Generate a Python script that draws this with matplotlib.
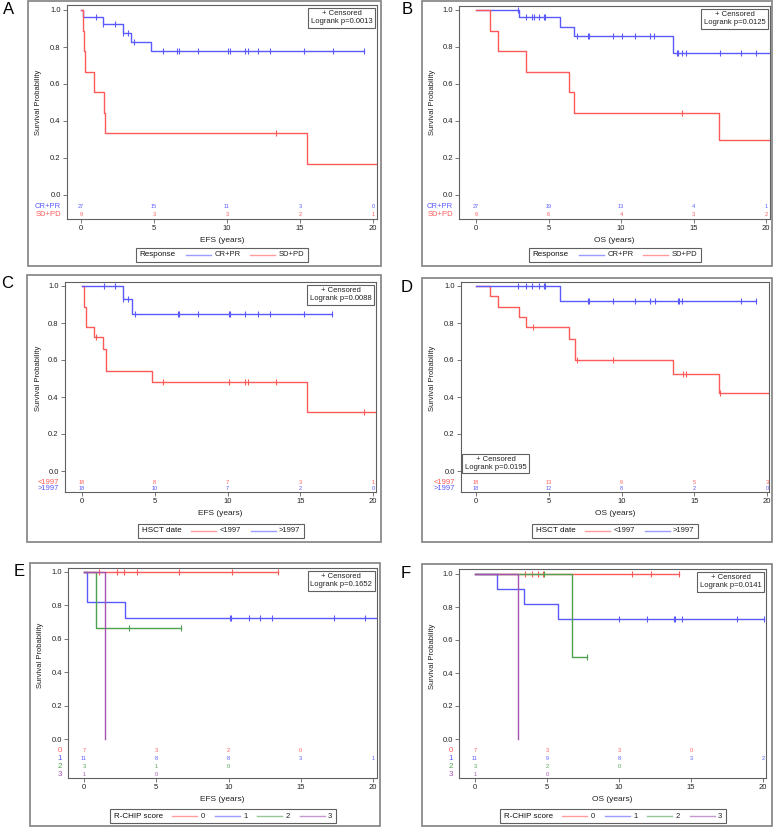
import matplotlib
matplotlib.use('Agg')
import matplotlib.pyplot as plt
import numpy as np
from matplotlib.lines import Line2D
from matplotlib.patches import Rectangle
from matplotlib.offsetbox import AnchoredOffsetbox, HPacker, TextArea, DrawingArea

plt.rcParams['font.family'] = ['Liberation Sans', 'DejaVu Sans']

W, H = 777, 827
BLUE = '#5a5aff'
RED = '#ff5a5a'
GREEN = '#4fa04f'
PURPLE = '#a352b0'
GREY = '#606060'

x_ticks = [0, 5, 10, 15, 20]
y_ticks = [0.0, 0.2, 0.4, 0.6, 0.8, 1.0]

# ---- A: EFS by response ----
a_cr_t = [0, 0.14, 1.5, 2.9, 3.45, 4.8]
a_cr_s = [1.0, 0.963, 0.926, 0.877, 0.829, 0.778]
a_cr_end = 19.4
a_cr_cens = [1.05, 1.5, 2.3, 2.9, 3.2, 3.65, 5.6, 6.6, 6.7, 8.0, 10.1, 10.2,
             11.2, 11.45, 12.15, 12.95, 15.3, 17.25, 19.4]
a_sd_t = [0, 0.15, 0.2, 0.25, 0.87, 1.6, 1.65, 15.45]
a_sd_s = [1.0, 0.889, 0.778, 0.667, 0.556, 0.444, 0.333, 0.167]
a_sd_end = 20.4
a_sd_cens = [13.35]
a_risk_cr = [27, 15, 11, 3, 0]
a_risk_sd = [9, 3, 3, 2, 1]

# ---- B: OS by response ----
b_cr_t = [0, 2.97, 5.79, 6.78, 13.56]
b_cr_s = [1.0, 0.963, 0.91, 0.859, 0.765]
b_cr_end = 20.4
b_cr_cens = [2.87, 3.45, 3.84, 4.0, 4.37, 4.69, 4.78, 6.94, 7.7, 7.8, 9.47, 10.09,
             10.97, 12.0, 12.3, 13.85, 13.95, 14.18, 14.46, 16.83, 18.28, 19.29]
b_sd_t = [0, 0.97, 1.49, 3.43, 6.41, 6.78, 16.76]
b_sd_s = [1.0, 0.889, 0.778, 0.667, 0.556, 0.444, 0.296]
b_sd_end = 20.4
b_sd_cens = [14.23]
b_risk_cr = [27, 19, 13, 4, 1]
b_risk_sd = [9, 6, 4, 3, 2]

# ---- C: EFS by HSCT date ----
c_old_t = [0, 0.15, 0.25, 0.82, 1.44, 1.62, 4.8, 15.43]
c_old_s = [1.0, 0.889, 0.778, 0.722, 0.66, 0.54, 0.48, 0.32]
c_old_end = 20.4
c_old_cens = [0.98, 5.6, 10.13, 11.2, 11.43, 13.33, 19.36]
c_new_t = [0, 2.81, 3.43]
c_new_s = [1.0, 0.929, 0.85]
c_new_end = 17.2
c_new_cens = [1.49, 2.29, 2.81, 3.15, 3.61, 6.6, 6.7, 8.0, 10.1, 10.2, 11.2,
              12.1, 12.9, 15.27, 17.2]
c_risk_old = [18, 8, 7, 3, 1]
c_risk_new = [18, 10, 7, 2, 0]

# ---- D: OS by HSCT date ----
d_old_t = [0, 0.96, 1.49, 2.98, 3.44, 6.4, 6.77, 13.53, 16.72]
d_old_s = [1.0, 0.944, 0.889, 0.833, 0.778, 0.716, 0.6, 0.523, 0.42]
d_old_end = 20.4
d_old_cens = [3.94, 6.93, 9.45, 14.2, 14.43, 16.79, 20.2]
d_new_t = [0, 5.78]
d_new_s = [1.0, 0.917]
d_new_end = 19.24
d_new_cens = [2.87, 3.44, 3.83, 4.36, 4.65, 4.77, 7.7, 7.78, 9.45, 10.94, 11.97,
              12.27, 13.85, 13.92, 14.15, 18.23, 19.24]
d_risk_old = [18, 13, 9, 5, 3]
d_risk_new = [18, 12, 8, 2, 0]

# ---- E: EFS by R-CHIP score ----
e0_t, e0_s, e0_end = [0], [1.0], 13.46
e0_cens = [1.04, 2.31, 2.79, 3.7, 6.6, 10.23, 13.46]
e1_t, e1_s, e1_end = [0, 0.23, 2.84], [1.0, 0.818, 0.727], 20.4
e1_cens = [10.12, 10.2, 11.45, 12.2, 13.0, 17.27, 19.47]
e2_t, e2_s, e2_end = [0, 0.85], [1.0, 0.667], 6.72
e2_cens = [3.14, 6.72]
e3_t, e3_s, e3_end = [0, 1.48], [1.0, 0.0], 1.48
e3_cens = []
e_risk = [[7, 3, 2, 0], [11, 8, 8, 3, 1], [3, 1, 0], [1, 0]]

# ---- F: OS by R-CHIP score ----
f0_t, f0_s, f0_end = [0], [1.0], 14.18
f0_cens = [3.48, 3.99, 4.4, 4.75, 10.89, 12.24, 14.18]
f1_t, f1_s, f1_end = [0, 1.51, 3.43, 5.75], [1.0, 0.909, 0.818, 0.727], 20.1
f1_cens = [10.03, 11.94, 13.83, 13.9, 14.37, 18.19, 20.1]
f2_t, f2_s, f2_end = [0, 6.77], [1.0, 0.5], 7.76
f2_cens = [4.82, 7.76]
f3_t, f3_s, f3_end = [0, 3.01], [1.0, 0.0], 3.01
f3_cens = []
f_risk = [[7, 3, 3, 0], [11, 9, 8, 3, 2], [3, 2, 0], [1, 0]]

resp_labels = ['CR+PR', 'SD+PD']
date_labels = ['<1997', '>1997']
score_labels = ['0', '1', '2', '3']
score_colors = [RED, BLUE, GREEN, PURPLE]

fig = plt.figure(figsize=(W / 100, H / 100), dpi=100)


def px_rect(x0, y0, x1, y1):
    return [x0 / W, 1 - y1 / H, (x1 - x0) / W, (y1 - y0) / H]


def frame(x0, y0, x1, y1):
    fig.add_artist(Rectangle((x0 / W, 1 - y1 / H), (x1 - x0) / W, (y1 - y0) / H,
                             transform=fig.transFigure, fill=False, ec='#8a8a8a', lw=1.3))


def km_axes(box, x0, x20, y1, y0, xlabel, ylab_x):
    L, T, R, B = box
    ax = fig.add_axes(px_rect(L, T, R, B))
    kx = (x20 - x0) / 20.0
    ky = float(y0 - y1)
    ax.set_xlim((L - x0) / kx, (R - x0) / kx)
    ax.set_ylim((y0 - B) / ky, (y0 - T) / ky)
    ax.set_xticks(x_ticks)
    ax.set_yticks(y_ticks)
    ax.set_yticklabels(['%.1f' % v for v in y_ticks])
    ax.tick_params(length=3, width=0.6, color=GREY, labelsize=5.5, pad=1.5, labelcolor='#222222')
    for sp in ax.spines.values():
        sp.set_color(GREY)
        sp.set_linewidth(0.8)
    ax.set_xlabel(xlabel, fontsize=6, labelpad=3.5, color='#222222')
    ax.text((ylab_x - L) / (R - L), 0.5, 'Survival Probability', transform=ax.get_yaxis_transform(),
            rotation=90, ha='center', va='center', fontsize=5.5, color='#222222')
    ax.px = (L, R, y0, ky)
    return ax


def km_line(ax, t, s, end, cens, color):
    x = list(t) + [end]
    y = list(s) + [s[-1]]
    ax.plot(x, y, drawstyle='steps-post', color=color, lw=1)
    if len(cens):
        idx = np.searchsorted(t, cens, side='right') - 1
        ax.plot(cens, np.array(s)[idx], ls='none', marker='|', ms=4, mew=0.8, color=color)


def risk_table(ax, rows_px, labels, colors, counts, lab_size=5.5):
    L, R, y0, ky = ax.px
    for py, lab, col, cnt in zip(rows_px, labels, colors, counts):
        yv = (y0 - py) / ky
        ax.text(-6.0 / (R - L), yv, lab, transform=ax.get_yaxis_transform(), ha='right',
                va='center', fontsize=lab_size, color=col)
        for xv, n in zip(x_ticks, cnt):
            ax.text(xv, yv, str(n), ha='center', va='center', fontsize=4, color=col)


def censor_box(ax, pval, x, y, ha, va):
    ax.text(x, y, '+ Censored\nLogrank p=' + pval, transform=ax.transAxes, ha=ha, va=va,
            multialignment='center', fontsize=5.5, color='#222222',
            bbox=dict(boxstyle='square,pad=0.3', fc='white', ec=GREY, lw=0.8))


def key(title, labels, colors, cx, cy):
    parts = []
    for lab, col in zip(labels, colors):
        da = DrawingArea(18, 5, 0, 0)
        da.add_artist(Line2D([0, 18], [2.5, 2.5], color=col, lw=1, alpha=0.6))
        parts.append(HPacker(children=[da, TextArea(lab, textprops=dict(size=5.5, color='#222222'))],
                             align='center', pad=0, sep=2.5))
    items = HPacker(children=parts, align='center', pad=0, sep=7)
    box = HPacker(children=[TextArea(title, textprops=dict(size=5.8, color='#111111')), items],
                  align='center', pad=0, sep=7)
    anch = AnchoredOffsetbox(loc='center', child=box, pad=0.25, borderpad=0, frameon=True,
                             bbox_to_anchor=(cx / W, 1 - cy / H), bbox_transform=fig.transFigure)
    anch.patch.set_edgecolor(GREY)
    anch.patch.set_linewidth(0.8)
    fig.add_artist(anch)


def letter(ch, x, y):
    fig.text(x / W, 1 - y / H, ch, ha='center', va='center', fontsize=12)


# Panel A
frame(28, 1, 381, 266)
ax = km_axes((67, 5, 377, 219), 81, 373, 10, 195, 'EFS (years)', 39)
km_line(ax, a_cr_t, a_cr_s, a_cr_end, a_cr_cens, BLUE)
km_line(ax, a_sd_t, a_sd_s, a_sd_end, a_sd_cens, RED)
risk_table(ax, [207, 215], resp_labels, [BLUE, RED], [a_risk_cr, a_risk_sd])
censor_box(ax, '0.0013', 0.985, 0.975, 'right', 'top')
key('Response', resp_labels, [BLUE, RED], 222, 255)
letter('A', 9, 10)

# Panel B
frame(422, 1, 772, 266)
ax = km_axes((459, 6, 770, 219), 476, 766, 10, 195, 'OS (years)', 432)
km_line(ax, b_cr_t, b_cr_s, b_cr_end, b_cr_cens, BLUE)
km_line(ax, b_sd_t, b_sd_s, b_sd_end, b_sd_cens, RED)
risk_table(ax, [207, 215], resp_labels, [BLUE, RED], [b_risk_cr, b_risk_sd])
censor_box(ax, '0.0125', 0.985, 0.975, 'right', 'top')
key('Response', resp_labels, [BLUE, RED], 615, 255)
letter('B', 407, 10)

# Panel C
frame(27, 275, 381, 542)
ax = km_axes((65, 282, 376, 492), 82, 373, 286, 471, 'EFS (years)', 39)
km_line(ax, c_old_t, c_old_s, c_old_end, c_old_cens, RED)
km_line(ax, c_new_t, c_new_s, c_new_end, c_new_cens, BLUE)
risk_table(ax, [482, 489], date_labels, [RED, BLUE], [c_risk_old, c_risk_new])
censor_box(ax, '0.0088', 0.985, 0.975, 'right', 'top')
key('HSCT date', date_labels, [RED, BLUE], 221, 531)
letter('C', 7, 283)

# Panel D
frame(422, 278, 772, 542)
ax = km_axes((461, 282, 769, 492), 476, 767, 286, 471, 'OS (years)', 433)
km_line(ax, d_old_t, d_old_s, d_old_end, d_old_cens, RED)
km_line(ax, d_new_t, d_new_s, d_new_end, d_new_cens, BLUE)
risk_table(ax, [482, 489], date_labels, [RED, BLUE], [d_risk_old, d_risk_new])
censor_box(ax, '0.0195', 0.012, 0.1, 'left', 'bottom')
key('HSCT date', date_labels, [RED, BLUE], 615, 531)
letter('D', 407, 288)

# Panel E
frame(30, 563, 380, 826)
ax = km_axes((68, 568, 377, 778), 84, 373, 572, 739, 'EFS (years)', 40)
km_line(ax, e0_t, e0_s, e0_end, e0_cens, RED)
km_line(ax, e1_t, e1_s, e1_end, e1_cens, BLUE)
km_line(ax, e2_t, e2_s, e2_end, e2_cens, GREEN)
km_line(ax, e3_t, e3_s, e3_end, e3_cens, PURPLE)
risk_table(ax, [750, 758, 766, 774], score_labels, score_colors, e_risk, lab_size=5.8)
censor_box(ax, '0.1652', 0.985, 0.975, 'right', 'top')
key('R-CHIP score', score_labels, score_colors, 223, 816)
letter('E', 19, 571)

# Panel F
frame(422, 564, 772, 826)
ax = km_axes((459, 569, 766, 778), 475, 763, 574, 739, 'OS (years)', 432)
km_line(ax, f0_t, f0_s, f0_end, f0_cens, RED)
km_line(ax, f1_t, f1_s, f1_end, f1_cens, BLUE)
km_line(ax, f2_t, f2_s, f2_end, f2_cens, GREEN)
km_line(ax, f3_t, f3_s, f3_end, f3_cens, PURPLE)
risk_table(ax, [751, 759, 767, 775], score_labels, score_colors, f_risk, lab_size=5.8)
censor_box(ax, '0.0141', 0.985, 0.975, 'right', 'top')
key('R-CHIP score', score_labels, score_colors, 613, 816)
letter('F', 406, 573)

fig.savefig('out.png', dpi=100)
